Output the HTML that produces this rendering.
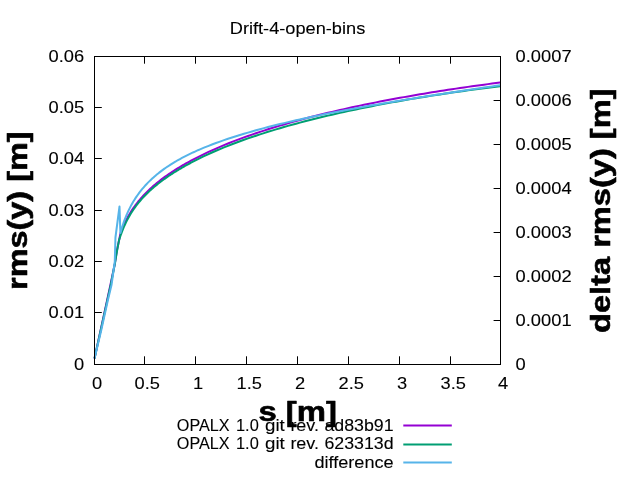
<!DOCTYPE html>
<html><head><meta charset="utf-8"><title>Drift-4-open-bins</title>
<style>
html,body{margin:0;padding:0;background:#fff;}
svg{display:block;will-change:transform;font-family:"Liberation Sans",sans-serif;}
.t{font-size:17px;fill:#000;stroke:#000;stroke-width:0.1px;}
.b{font-size:28px;font-weight:bold;fill:#000;stroke:#000;stroke-width:0.6px;stroke-linejoin:round;}
</style></head><body>
<svg width="640" height="480" viewBox="0 0 640 480">
<rect width="640" height="480" fill="#fff"/>
<g class="t">
<text x="297.5" y="34" text-anchor="middle" textLength="135.5" lengthAdjust="spacingAndGlyphs">Drift-4-open-bins</text>
<text x="97.20" y="389" text-anchor="middle" textLength="10.2" lengthAdjust="spacingAndGlyphs">0</text>
<text x="147.20" y="389" text-anchor="middle" textLength="25.4" lengthAdjust="spacingAndGlyphs">0.5</text>
<text x="198.20" y="389" text-anchor="middle" textLength="10.2" lengthAdjust="spacingAndGlyphs">1</text>
<text x="249.20" y="389" text-anchor="middle" textLength="25.4" lengthAdjust="spacingAndGlyphs">1.5</text>
<text x="300.20" y="389" text-anchor="middle" textLength="10.2" lengthAdjust="spacingAndGlyphs">2</text>
<text x="351.20" y="389" text-anchor="middle" textLength="25.4" lengthAdjust="spacingAndGlyphs">2.5</text>
<text x="402.20" y="389" text-anchor="middle" textLength="10.2" lengthAdjust="spacingAndGlyphs">3</text>
<text x="453.20" y="389" text-anchor="middle" textLength="25.4" lengthAdjust="spacingAndGlyphs">3.5</text>
<text x="503.20" y="389" text-anchor="middle" textLength="10.2" lengthAdjust="spacingAndGlyphs">4</text>
<text x="84.2" y="370.20" text-anchor="end" textLength="10.2" lengthAdjust="spacingAndGlyphs">0</text>
<text x="84.2" y="318.20" text-anchor="end" textLength="35.6" lengthAdjust="spacingAndGlyphs">0.01</text>
<text x="84.2" y="267.20" text-anchor="end" textLength="35.6" lengthAdjust="spacingAndGlyphs">0.02</text>
<text x="84.2" y="216.20" text-anchor="end" textLength="35.6" lengthAdjust="spacingAndGlyphs">0.03</text>
<text x="84.2" y="164.20" text-anchor="end" textLength="35.6" lengthAdjust="spacingAndGlyphs">0.04</text>
<text x="84.2" y="113.20" text-anchor="end" textLength="35.6" lengthAdjust="spacingAndGlyphs">0.05</text>
<text x="84.2" y="62.20" text-anchor="end" textLength="35.6" lengthAdjust="spacingAndGlyphs">0.06</text>
<text x="515.6" y="370.20" textLength="10.2" lengthAdjust="spacingAndGlyphs">0</text>
<text x="515.6" y="326.20" textLength="56" lengthAdjust="spacingAndGlyphs">0.0001</text>
<text x="515.6" y="282.20" textLength="56" lengthAdjust="spacingAndGlyphs">0.0002</text>
<text x="515.6" y="238.20" textLength="56" lengthAdjust="spacingAndGlyphs">0.0003</text>
<text x="515.6" y="194.20" textLength="56" lengthAdjust="spacingAndGlyphs">0.0004</text>
<text x="515.6" y="150.20" textLength="56" lengthAdjust="spacingAndGlyphs">0.0005</text>
<text x="515.6" y="106.20" textLength="56" lengthAdjust="spacingAndGlyphs">0.0006</text>
<text x="515.6" y="62.20" textLength="56" lengthAdjust="spacingAndGlyphs">0.0007</text>
</g>
<path d="M94.5,364.5 V356.30 M94.5,56.5 V63.70 M144.5,364.5 V356.30 M144.5,56.5 V63.70 M195.5,364.5 V356.30 M195.5,56.5 V63.70 M246.5,364.5 V356.30 M246.5,56.5 V63.70 M297.5,364.5 V356.30 M297.5,56.5 V63.70 M348.5,364.5 V356.30 M348.5,56.5 V63.70 M399.5,364.5 V356.30 M399.5,56.5 V63.70 M450.5,364.5 V356.30 M450.5,56.5 V63.70 M500.5,364.5 V356.30 M500.5,56.5 V63.70 M94.5,364.5 H101.80 M94.5,312.5 H101.80 M94.5,261.5 H101.80 M94.5,210.5 H101.80 M94.5,158.5 H101.80 M94.5,107.5 H101.80 M94.5,56.5 H101.80 M500.5,364.5 H493.60 M500.5,320.5 H493.60 M500.5,276.5 H493.60 M500.5,232.5 H493.60 M500.5,188.5 H493.60 M500.5,144.5 H493.60 M500.5,100.5 H493.60 M500.5,56.5 H493.60" stroke="#000" stroke-width="1" fill="none"/>
<g class="b">
<text transform="translate(27,210.7) rotate(-90)" text-anchor="middle" textLength="158.5" lengthAdjust="spacingAndGlyphs">rms(y) [m]</text>
<text transform="translate(609.6,210.7) rotate(-90)" text-anchor="middle" textLength="244.5" lengthAdjust="spacingAndGlyphs">delta rms(y) [m]</text>
<text x="297.7" y="420.5" text-anchor="middle" textLength="78.5" lengthAdjust="spacingAndGlyphs">s [m]</text>
</g>
<g class="t">
<text x="176.8" y="430.6" textLength="52.8" lengthAdjust="spacingAndGlyphs">OPALX</text>
<text x="236.0" y="430.6" textLength="22.8" lengthAdjust="spacingAndGlyphs">1.0</text>
<text x="265.0" y="430.6" textLength="19.8" lengthAdjust="spacingAndGlyphs">git</text>
<text x="290.4" y="430.6" textLength="28.6" lengthAdjust="spacingAndGlyphs">rev.</text>
<text x="324.4" y="430.6" textLength="69.2" lengthAdjust="spacingAndGlyphs">ad83b91</text>
<text x="176.8" y="449.4" textLength="52.8" lengthAdjust="spacingAndGlyphs">OPALX</text>
<text x="236.0" y="449.4" textLength="22.8" lengthAdjust="spacingAndGlyphs">1.0</text>
<text x="265.0" y="449.4" textLength="19.8" lengthAdjust="spacingAndGlyphs">git</text>
<text x="290.4" y="449.4" textLength="28.6" lengthAdjust="spacingAndGlyphs">rev.</text>
<text x="324.4" y="449.4" textLength="69.2" lengthAdjust="spacingAndGlyphs">623313d</text>
<text x="314.4" y="468.4" textLength="79.2" lengthAdjust="spacingAndGlyphs">difference</text>
</g>
<g fill="none" stroke-width="2" stroke-linejoin="round" stroke-linecap="butt">
<path d="M403.3,425.4 H451.8" stroke="#9400d3"/>
<path d="M94.50,358.50 L110.40,285.00 L114.80,264.00 L117.00,250.00 L119.00,240.50 L120.50,233.21 L121.50,230.57 L122.50,228.10 L123.50,225.78 L124.50,223.58 L125.50,221.50 L126.50,219.53 L127.50,217.65 L128.50,215.85 L129.50,214.13 L130.50,212.48 L131.50,210.90 L132.50,209.37 L133.50,207.90 L134.50,206.48 L135.50,205.11 L136.50,203.78 L137.50,202.49 L138.50,201.24 L139.50,200.02 L140.50,198.84 L141.50,197.70 L142.50,196.58 L143.50,195.49 L144.50,194.42 L145.50,193.39 L146.50,192.37 L147.50,191.38 L148.50,190.41 L149.50,189.46 L150.50,188.53 L151.50,187.62 L152.50,186.73 L153.50,185.85 L154.50,184.99 L155.50,184.14 L156.50,183.31 L157.50,182.50 L158.50,181.70 L159.50,180.91 L160.50,180.13 L161.50,179.37 L162.50,178.62 L163.50,177.87 L164.50,177.14 L165.50,176.42 L166.50,175.71 L167.50,175.01 L168.50,174.32 L169.50,173.64 L170.50,172.96 L171.50,172.30 L172.50,171.64 L173.50,170.99 L174.50,170.35 L175.50,169.72 L176.50,169.09 L177.50,168.47 L178.50,167.85 L179.50,167.25 L180.50,166.65 L181.50,166.05 L182.50,165.46 L183.50,164.88 L184.50,164.31 L185.50,163.73 L186.50,163.17 L187.50,162.61 L188.50,162.05 L189.50,161.51 L190.50,160.96 L191.50,160.42 L192.50,159.89 L193.50,159.36 L194.50,158.83 L195.50,158.31 L196.50,157.80 L197.50,157.28 L198.50,156.78 L199.50,156.27 L200.00,156.02 L204.00,154.06 L208.00,152.17 L212.00,150.33 L216.00,148.55 L220.00,146.82 L224.00,145.14 L228.00,143.52 L232.00,141.93 L236.00,140.39 L240.00,138.89 L244.00,137.42 L248.00,135.99 L252.00,134.59 L256.00,133.23 L260.00,131.89 L264.00,130.58 L268.00,129.30 L272.00,128.05 L276.00,126.82 L280.00,125.61 L284.00,124.43 L288.00,123.27 L292.00,122.14 L296.00,121.02 L300.00,119.93 L304.00,118.86 L308.00,117.80 L312.00,116.77 L316.00,115.75 L320.00,114.75 L324.00,113.77 L328.00,112.81 L332.00,111.86 L336.00,110.93 L340.00,110.01 L344.00,109.11 L348.00,108.22 L352.00,107.34 L356.00,106.48 L360.00,105.64 L364.00,104.80 L368.00,103.98 L372.00,103.17 L376.00,102.37 L380.00,101.59 L384.00,100.81 L388.00,100.05 L392.00,99.30 L396.00,98.56 L400.00,97.83 L404.00,97.11 L408.00,96.40 L412.00,95.70 L416.00,95.01 L420.00,94.33 L424.00,93.66 L428.00,92.99 L432.00,92.34 L436.00,91.70 L440.00,91.07 L444.00,90.44 L448.00,89.83 L452.00,89.22 L456.00,88.62 L460.00,88.03 L464.00,87.45 L468.00,86.88 L472.00,86.31 L476.00,85.75 L480.00,85.21 L484.00,84.66 L488.00,84.13 L492.00,83.61 L496.00,83.09 L500.00,82.58 L500.50,82.51" stroke="#9400d3"/>
<path d="M403.3,444.4 H451.8" stroke="#009e73"/>
<path d="M94.50,358.50 L110.70,285.00 L114.80,264.00 L117.00,251.00 L119.00,240.41 L120.00,237.22 L121.00,234.29 L122.00,231.58 L123.00,229.05 L124.00,226.69 L125.00,224.47 L126.00,222.37 L127.00,220.39 L128.00,218.50 L129.00,216.70 L130.00,214.98 L131.00,213.34 L132.00,211.76 L133.00,210.25 L134.00,208.79 L135.00,207.38 L136.00,206.02 L137.00,204.71 L138.00,203.44 L139.00,202.20 L140.00,201.01 L141.00,199.84 L142.00,198.71 L143.00,197.61 L144.00,196.54 L145.00,195.50 L146.00,194.48 L147.00,193.48 L148.00,192.51 L149.00,191.55 L150.00,190.62 L151.00,189.71 L152.00,188.82 L153.00,187.94 L154.00,187.08 L155.00,186.24 L156.00,185.41 L157.00,184.60 L158.00,183.80 L159.00,183.01 L160.00,182.24 L161.00,181.48 L162.00,180.73 L163.00,180.00 L164.00,179.27 L165.00,178.56 L166.00,177.85 L167.00,177.16 L168.00,176.47 L169.00,175.79 L170.00,175.12 L171.00,174.46 L172.00,173.81 L173.00,173.17 L174.00,172.53 L175.00,171.91 L176.00,171.29 L177.00,170.67 L178.00,170.06 L179.00,169.46 L180.00,168.87 L181.00,168.28 L182.00,167.70 L183.00,167.12 L184.00,166.55 L185.00,165.99 L186.00,165.43 L187.00,164.88 L188.00,164.33 L189.00,163.78 L190.00,163.25 L191.00,162.71 L192.00,162.18 L193.00,161.66 L194.00,161.14 L195.00,160.63 L196.00,160.12 L197.00,159.61 L198.00,159.11 L199.00,158.61 L200.00,158.12 L204.00,156.19 L208.00,154.33 L212.00,152.52 L216.00,150.77 L220.00,149.07 L224.00,147.42 L228.00,145.81 L232.00,144.25 L236.00,142.73 L240.00,141.26 L244.00,139.81 L248.00,138.41 L252.00,137.03 L256.00,135.69 L260.00,134.37 L264.00,133.08 L268.00,131.82 L272.00,130.59 L276.00,129.38 L280.00,128.19 L284.00,127.03 L288.00,125.89 L292.00,124.77 L296.00,123.68 L300.00,122.60 L304.00,121.54 L308.00,120.51 L312.00,119.49 L316.00,118.49 L320.00,117.51 L324.00,116.55 L328.00,115.60 L332.00,114.67 L336.00,113.76 L340.00,112.86 L344.00,111.97 L348.00,111.10 L352.00,110.24 L356.00,109.40 L360.00,108.57 L364.00,107.76 L368.00,106.95 L372.00,106.16 L376.00,105.38 L380.00,104.61 L384.00,103.86 L388.00,103.11 L392.00,102.38 L396.00,101.66 L400.00,100.95 L404.00,100.25 L408.00,99.56 L412.00,98.88 L416.00,98.21 L420.00,97.55 L424.00,96.90 L428.00,96.26 L432.00,95.63 L436.00,95.01 L440.00,94.39 L444.00,93.79 L448.00,93.20 L452.00,92.61 L456.00,92.04 L460.00,91.47 L464.00,90.91 L468.00,90.36 L472.00,89.82 L476.00,89.29 L480.00,88.76 L484.00,88.25 L488.00,87.74 L492.00,87.24 L496.00,86.75 L500.00,86.26 L500.50,86.20" stroke="#009e73"/>
<path d="M403.3,462.4 H451.8" stroke="#56b4e9"/>
<path d="M94.50,358.50 L101.30,330.00 L107.90,300.00 L111.50,285.00 L114.75,262.00 L115.45,237.50 L119.50,206.50 L120.40,233.10 L121.50,229.23 L122.50,225.96 L123.50,222.95 L124.50,220.16 L125.50,217.55 L126.50,215.11 L127.50,212.81 L128.50,210.65 L129.50,208.59 L130.50,206.64 L131.50,204.78 L132.50,203.01 L133.50,201.32 L134.50,199.69 L135.50,198.14 L136.50,196.64 L137.50,195.20 L138.50,193.81 L139.50,192.47 L140.50,191.17 L141.50,189.92 L142.50,188.71 L143.50,187.53 L144.50,186.39 L145.50,185.28 L146.50,184.20 L147.50,183.15 L148.50,182.13 L149.50,181.14 L150.50,180.17 L151.50,179.22 L152.50,178.30 L153.50,177.40 L154.50,176.52 L155.50,175.66 L156.50,174.82 L157.50,174.00 L158.50,173.19 L159.50,172.40 L160.50,171.63 L161.50,170.87 L162.50,170.13 L163.50,169.40 L164.50,168.69 L165.50,167.99 L166.50,167.30 L167.50,166.62 L168.50,165.96 L169.50,165.30 L170.50,164.66 L171.50,164.03 L172.50,163.41 L173.50,162.79 L174.50,162.19 L175.50,161.60 L176.50,161.01 L177.50,160.44 L178.50,159.87 L179.50,159.31 L180.50,158.76 L181.50,158.22 L182.50,157.69 L183.50,157.16 L184.50,156.64 L185.50,156.13 L186.50,155.62 L187.50,155.12 L188.50,154.63 L189.50,154.14 L190.50,153.66 L191.50,153.18 L192.50,152.71 L193.50,152.25 L194.50,151.79 L195.50,151.33 L196.50,150.89 L197.50,150.44 L198.50,150.00 L199.50,149.57 L200.00,149.36 L204.00,147.68 L208.00,146.06 L212.00,144.51 L216.00,143.02 L220.00,141.57 L224.00,140.18 L228.00,138.82 L232.00,137.51 L236.00,136.23 L240.00,134.99 L244.00,133.78 L248.00,132.60 L252.00,131.44 L256.00,130.32 L260.00,129.22 L264.00,128.14 L268.00,127.09 L272.00,126.06 L276.00,125.05 L280.00,124.06 L284.00,123.10 L288.00,122.15 L292.00,121.21 L296.00,120.30 L300.00,119.40 L304.00,118.52 L308.00,117.65 L312.00,116.80 L316.00,115.96 L320.00,115.14 L324.00,114.33 L328.00,113.53 L332.00,112.74 L336.00,111.96 L340.00,111.19 L344.00,110.43 L348.00,109.68 L352.00,108.94 L356.00,108.21 L360.00,107.49 L364.00,106.77 L368.00,106.06 L372.00,105.36 L376.00,104.67 L380.00,103.98 L384.00,103.30 L388.00,102.62 L392.00,101.95 L396.00,101.28 L400.00,100.62 L404.00,99.96 L408.00,99.31 L412.00,98.66 L416.00,98.02 L420.00,97.38 L424.00,96.74 L428.00,96.11 L432.00,95.48 L436.00,94.86 L440.00,94.24 L444.00,93.62 L448.00,93.00 L452.00,92.39 L456.00,91.78 L460.00,91.18 L464.00,90.57 L468.00,89.97 L472.00,89.37 L476.00,88.77 L480.00,88.17 L484.00,87.58 L488.00,86.99 L492.00,86.40 L496.00,85.81 L500.00,85.22 L500.50,85.15" stroke="#56b4e9"/>
</g>
<rect x="94.5" y="56.5" width="406.0" height="308.0" fill="none" stroke="#000" stroke-width="1"/>
</svg>
</body></html>
